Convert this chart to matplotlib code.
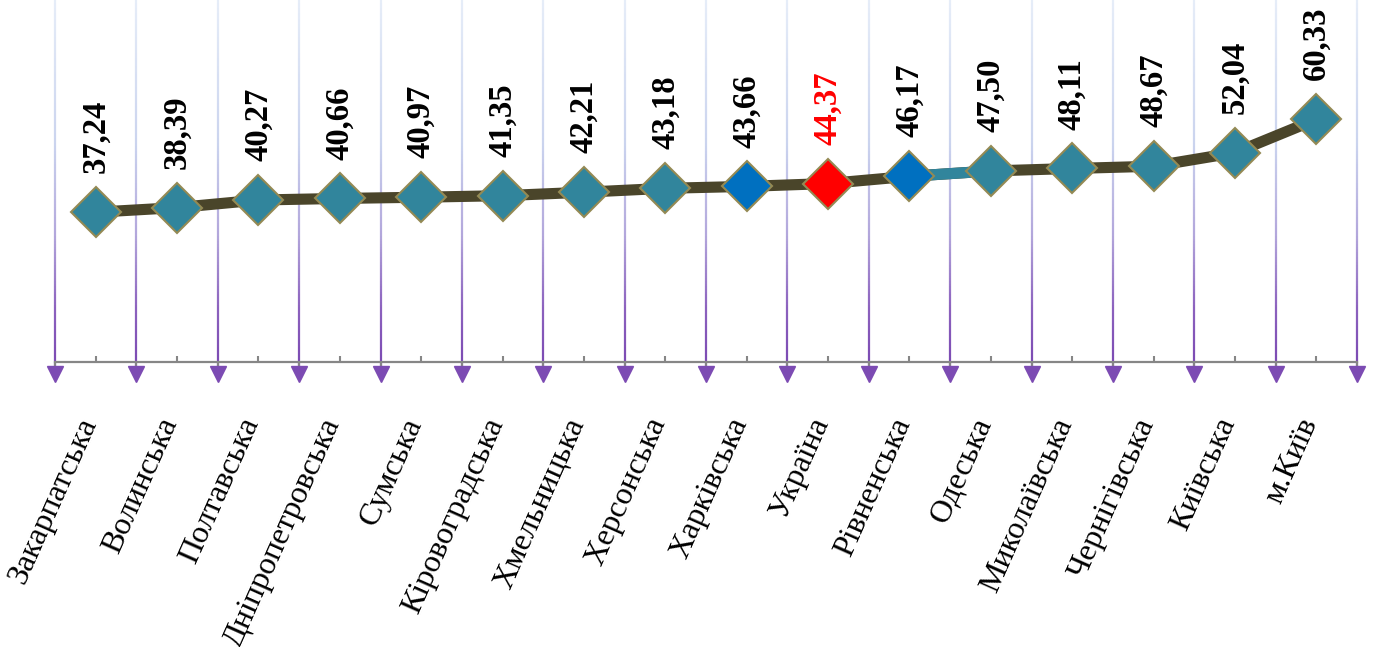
import numpy as np
import matplotlib
matplotlib.use("Agg")
import matplotlib.pyplot as plt
from matplotlib.collections import LineCollection
from matplotlib.colors import LinearSegmentedColormap
import matplotlib.transforms as mtransforms

categories = ["Закарпатська", "Волинська", "Полтавська", "Дніпропетровська", "Сумська",
              "Кіровоградська", "Хмельницька", "Херсонська", "Харківська", "Україна",
              "Рівненська", "Одеська", "Миколаївська", "Чернігівська", "Київська", "м.Київ"]
values = [37.24, 38.39, 40.27, 40.66, 40.97, 41.35, 42.21, 43.18, 43.66, 44.37,
          46.17, 47.50, 48.11, 48.67, 52.04, 60.33]
labels = ["37,24", "38,39", "40,27", "40,66", "40,97", "41,35", "42,21", "43,18", "43,66", "44,37",
          "46,17", "47,50", "48,11", "48,67", "52,04", "60,33"]

TEAL = "#31859C"
BLUE = "#0070C0"
RED = "#FF0000"
marker_colors = [TEAL] * len(values)
marker_colors[8] = BLUE
marker_colors[9] = RED
marker_colors[10] = BLUE
label_colors = ["black"] * len(values)
label_colors[9] = RED

plt.rcParams['font.family'] = ['Liberation Serif', 'DejaVu Serif']

fig = plt.figure(figsize=(13.73, 6.47), dpi=100)
ax = fig.add_axes([55 / 1373, 1 - 362 / 647, (1357 - 55) / 1373, 362 / 647])
n = len(values)
x = np.arange(n)
ax.set_xlim(-0.5, n - 0.5)
ax.set_ylim(0, 90)

# gradient gridlines at category boundaries
cmap = LinearSegmentedColormap.from_list(
    "g", [(0.0, "#7C4BB3"), (0.15, "#8C62BE"), (0.35, "#B2A6DB"),
          (0.6, "#CAD3EE"), (1.0, "#E6EDF8")])
ys = np.linspace(-1.6, 90, 140)
for b in np.arange(-0.5, n, 1.0):
    pts = np.column_stack([np.full_like(ys, b), ys])
    segs = np.stack([pts[:-1], pts[1:]], axis=1)
    t = np.clip((ys[:-1] + ys[1:]) / 2 / 90, 0, 1)
    lc = LineCollection(segs, colors=cmap(t), linewidths=1.6, clip_on=False, zorder=1)
    ax.add_collection(lc)
    ax.plot([b], [-2.9], marker="v", ms=11, color="#7C4BB3", mec="#7C4BB3",
            clip_on=False, zorder=2)

# line
ax.plot(x, values, color="#4A452A", lw=8, zorder=3, solid_capstyle="butt")
ax.plot(x[10:12], values[10:12], color=TEAL, lw=8, zorder=3.5, solid_capstyle="butt")
for i in range(n):
    ax.plot(x[i], values[i], marker="D", ms=25, mfc=marker_colors[i], mec="#948A54",
            mew=1.5, zorder=4, linestyle="none")
    ax.annotate(labels[i], (x[i], values[i]), xytext=(0, 28), textcoords="offset points",
                rotation=90, ha="center", va="bottom", fontsize=23.5, fontweight="bold",
                color=label_colors[i], zorder=5)

for s in ["top", "right", "left"]:
    ax.spines[s].set_visible(False)
ax.spines["bottom"].set_color("#868686")
ax.spines["bottom"].set_linewidth(1.6)
ax.spines["bottom"].set_zorder(2.5)
ax.set_yticks([])
ax.set_xticks(x)
ax.set_xticks(np.arange(-0.5, n, 1.0), minor=True)
ax.tick_params(axis="x", which="major", direction="in", length=4, width=1.5, color="#868686",
               pad=37, labelsize=23)
ax.tick_params(axis="x", which="minor", direction="out", length=6, width=1.5, color="#868686")
offset = mtransforms.ScaledTranslation(7 / 100, 0, fig.dpi_scale_trans)
ax.set_xticklabels(categories, rotation=66, ha="right", va="top")
for lab in ax.get_xticklabels():
    lab.set_transform(lab.get_transform() + offset)

fig.savefig("out.png", dpi=100)
